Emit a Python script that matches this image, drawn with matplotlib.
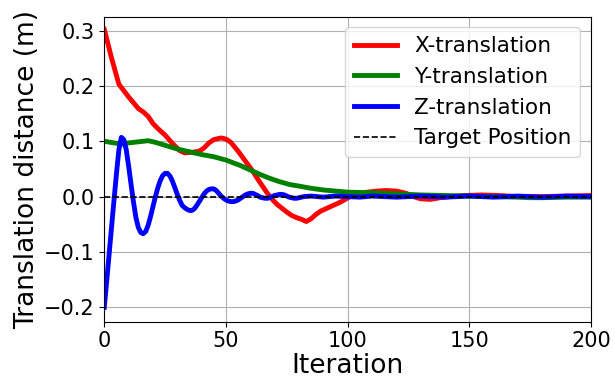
import numpy as np
import matplotlib
matplotlib.use("Agg")
import matplotlib.pyplot as plt

# translation error per iteration for each axis
x_iter = [0, 3, 6, 10, 14, 16, 18, 20, 22, 25, 28, 31, 33, 36, 39, 41, 43, 45, 48, 50,
          52, 55, 57, 59, 61, 63, 65, 67, 69, 71, 73, 75, 77, 79, 81, 83, 85, 87, 89,
          91, 93, 95, 97, 99, 101, 104, 108, 112, 116, 120, 124, 127, 130, 134, 138,
          142, 148, 155, 162, 170, 180, 190, 200]
x_trans = [0.302, 0.250, 0.203, 0.180, 0.159, 0.153, 0.145, 0.132, 0.123, 0.111, 0.096,
           0.083, 0.079, 0.080, 0.082, 0.088, 0.097, 0.103, 0.106, 0.104,
           0.098, 0.082, 0.070, 0.058, 0.046, 0.032, 0.019, 0.006, -0.005, -0.014,
           -0.021, -0.028, -0.034, -0.038, -0.041, -0.045, -0.040, -0.032, -0.026,
           -0.022, -0.018, -0.014, -0.010, -0.005, 0.000, 0.004, 0.008, 0.010, 0.011,
           0.010, 0.006, 0.000, -0.004, -0.005, -0.002,
           0.000, 0.002, 0.003, 0.002, 0.000, 0.000, 0.001, 0.002]

y_iter = [0, 4, 7, 10, 14, 18, 21, 24, 27, 30, 35, 40, 45, 50, 53, 56, 60, 64, 68, 72,
          76, 80, 85, 90, 95, 100, 110, 120, 130, 140, 150, 160, 170, 175, 180, 190, 200]
y_trans = [0.100, 0.097, 0.095, 0.097, 0.099, 0.101, 0.098, 0.094, 0.090, 0.086, 0.081,
           0.076, 0.072, 0.066, 0.061, 0.056, 0.048, 0.040, 0.033, 0.027,
           0.022, 0.019, 0.015, 0.012, 0.010, 0.008, 0.007, 0.005, 0.003, 0.002, 0.001,
           0.000, -0.001, -0.002, -0.002, -0.001, -0.001]

z_iter = list(range(0, 81)) + [82, 85, 90, 95, 100, 105, 110, 120, 130, 140, 150, 160,
                               170, 180, 190, 200]
z_trans = [-0.200, -0.152, -0.103, -0.054, -0.006, 0.042, 0.085, 0.107, 0.103, 0.085,
           0.055, 0.022, -0.010, -0.038, -0.056, -0.065, -0.067, -0.063, -0.052, -0.036,
           -0.018, 0.000, 0.016, 0.029, 0.038, 0.042, 0.042, 0.037, 0.028, 0.016,
           0.004, -0.007, -0.016, -0.020, -0.023, -0.025, -0.025, -0.022, -0.016, -0.009,
           -0.002, 0.005, 0.010, 0.013, 0.014, 0.014, 0.011, 0.006, 0.001, -0.003,
           -0.006, -0.008, -0.009, -0.009, -0.008, -0.006, -0.003, 0.000, 0.003, 0.005,
           0.006, 0.006, 0.004, 0.002, -0.001, -0.002, -0.003, -0.003, -0.002, 0.000,
           0.002, 0.003, 0.004, 0.004, 0.003, 0.001, -0.001, -0.002, -0.003, -0.003,
           -0.002, 0.000, 0.001, -0.001, 0.001, 0.000, -0.001, 0.001, -0.001, 0.001,
           -0.001, 0.001, -0.001, 0.001, -0.001, 0.001, 0.000]

target = 0.0

fig = plt.figure(figsize=(6.15, 3.85), dpi=100)
ax = fig.add_axes([0.1696, 0.1644, 0.7914, 0.7922])

ax.plot(x_iter, x_trans, color="red", lw=3.5, label="X-translation")
ax.plot(y_iter, y_trans, color="green", lw=3.5, label="Y-translation")
ax.plot(z_iter, z_trans, color="blue", lw=3.5, label="Z-translation")
ax.axhline(target, color="black", ls="--", lw=1.2, label="Target Position")

ax.set_xlim(0, 200)
ax.set_ylim(-0.226, 0.325)
ax.set_xticks([0, 50, 100, 150, 200])
ax.set_yticks([-0.2, -0.1, 0.0, 0.1, 0.2, 0.3])
ax.tick_params(labelsize=15)
ax.grid(True, color="#b0b0b0", lw=0.8)

ax.set_xlabel("Iteration", fontsize=19, labelpad=1)
ax.set_ylabel("Translation distance (m)", fontsize=19, labelpad=3)
ax.legend(loc="upper right", fontsize=15.5)

fig.savefig("out.png", dpi=100)
